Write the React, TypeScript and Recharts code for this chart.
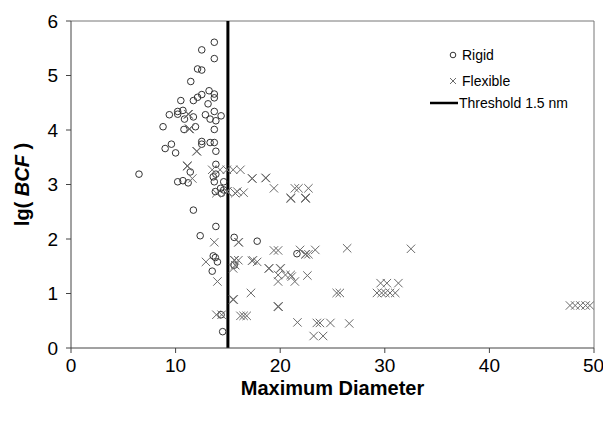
import React from 'react';
import { ScatterChart, Scatter, XAxis, YAxis, ReferenceLine } from 'recharts';

const xTicks = [0, 10, 20, 30, 40, 50];
const yTicks = [0, 1, 2, 3, 4, 5, 6];
const threshold = 15;
const legendLabels = ['Rigid', 'Flexible', 'Threshold 1.5 nm'];

const rigidX = [13.7, 12.5, 13.7, 12.1, 12.5, 11.45, 13.2, 12.5, 12.1, 11.7, 10.5, 13.7, 13.7, 13.1, 13.7, 10.2, 10.7, 9.4, 10.2, 10.85, 11.7, 12.85, 13.3, 13.85, 14.35, 8.8, 10.8, 11.9, 13.7, 9.0, 9.6, 10.0, 12.5, 12.5, 13.3, 13.7, 13.85, 6.5, 11.4, 10.2, 10.7, 11.2, 13.85, 13.85, 13.7, 14.3, 14.6, 13.8, 14.6, 14.4, 11.7, 13.85, 12.35, 15.6, 17.8, 13.6, 13.8, 14.0, 13.5, 14.5, 14.35, 21.6, 15.6, 13.6];
const rigidY = [5.61, 5.47, 5.31, 5.12, 5.10, 4.89, 4.72, 4.65, 4.60, 4.54, 4.54, 4.66, 4.59, 4.48, 4.34, 4.34, 4.36, 4.28, 4.29, 4.20, 4.24, 4.28, 4.20, 4.17, 4.26, 4.06, 4.01, 4.06, 4.01, 3.66, 3.74, 3.58, 3.79, 3.74, 3.77, 3.77, 3.61, 3.19, 3.23, 3.05, 3.07, 3.03, 3.37, 3.19, 3.05, 2.93, 2.90, 2.87, 3.05, 2.84, 2.53, 2.23, 2.06, 2.03, 1.96, 1.69, 1.66, 1.58, 1.41, 0.30, 0.61, 1.73, 1.52, 3.14];

const flexX = [11.2, 11.2, 11.25, 11.3, 11.3, 11.35, 12.0, 12.05, 11.1, 11.1, 11.15, 17.3, 17.35, 18.6, 18.65, 14.9, 14.95, 21.0, 21.0, 21.05, 22.4, 22.4, 22.45, 16.0, 16.05, 18.9, 18.95, 20.0, 20.05, 15.5, 15.5, 15.55, 19.8, 19.8, 19.85, 15.6, 15.65, 22.4, 22.45,
  11.6, 13.5, 14.25, 14.9, 15.5, 16.2, 19.4, 21.4, 21.75, 22.7, 15.9, 16.5, 13.9, 15.7,
  19.4, 19.8, 21.9, 22.7, 23.35, 26.4, 32.5, 16.0, 15.7, 15.5, 17.3, 17.8, 17.4,
  19.8, 20.5, 21.0, 21.1, 22.6, 19.8, 21.4, 17.2, 25.4, 25.7, 13.7, 12.9, 14.0,
  13.9, 14.4, 16.2, 16.5, 16.8, 21.65, 23.5, 23.8, 24.8, 26.6, 23.2, 24.1,
  29.6, 30.2, 31.3, 29.25, 29.7, 30.05, 30.5, 31.0, 47.7, 48.2, 48.7, 49.2, 49.6];
const flexY = [4.29, 4.29, 4.29, 4.02, 4.02, 4.02, 3.61, 3.61, 3.34, 3.34, 3.34, 3.11, 3.11, 3.12, 3.12, 2.87, 2.87, 2.75, 2.75, 2.75, 2.75, 2.75, 2.75, 1.94, 1.94, 1.46, 1.46, 1.46, 1.46, 0.89, 0.89, 0.89, 0.76, 0.76, 0.76, 1.61, 1.61, 1.72, 1.72,
  3.11, 3.27, 3.27, 3.27, 3.27, 3.27, 2.93, 2.93, 2.93, 2.93, 2.87, 2.85, 2.84, 2.84,
  1.79, 1.79, 1.80, 1.72, 1.80, 1.83, 1.82, 1.61, 1.52, 1.46, 1.60, 1.58, 1.61,
  1.34, 1.34, 1.34, 1.31, 1.33, 1.22, 1.22, 1.01, 1.01, 1.01, 1.94, 1.58, 1.22,
  0.61, 0.61, 0.59, 0.59, 0.59, 0.47, 0.46, 0.46, 0.46, 0.45, 0.22, 0.22,
  1.19, 1.19, 1.19, 1.01, 1.01, 1.01, 1.01, 1.01, 0.78, 0.78, 0.78, 0.78, 0.78];

const rigidData = rigidX.map((x, i) => ({ x, y: rigidY[i] }));
const flexData = flexX.map((x, i) => ({ x, y: flexY[i] }));

const FONT = '"Liberation Sans", Arial, sans-serif';
const CROSS = '#6a6a6a';

const CircleShape = (props: any) => {
  const { cx, cy } = props;
  if (cx == null || cy == null) return <g />;
  return <circle cx={cx} cy={cy} r={3.3} fill="none" stroke="#333" strokeWidth={1} />;
};

const CrossShape = (props: any) => {
  const { cx, cy } = props;
  if (cx == null || cy == null) return <g />;
  const s = 4.2;
  return (
    <g stroke={CROSS} strokeWidth={1} fill="none">
      <line x1={cx - s} y1={cy - s} x2={cx + s} y2={cy + s} />
      <line x1={cx - s} y1={cy + s} x2={cx + s} y2={cy - s} />
    </g>
  );
};

const LegendBox = () => (
  <svg width={603} height={427} style={{ position: 'absolute', left: 0, top: 0, pointerEvents: 'none', fontFamily: FONT, fontSize: 14 }}>
    <circle cx={453} cy={55} r={2.8} fill="none" stroke="#333" />
    <text x={462} y={60} fill="#000">{legendLabels[0]}</text>
    <g stroke={CROSS}>
      <line x1={450} y1={78} x2={456} y2={84} />
      <line x1={450} y1={84} x2={456} y2={78} />
    </g>
    <text x={462} y={86} fill="#000">{legendLabels[1]}</text>
    <line x1={430} y1={103} x2={458} y2={103} stroke="#000" strokeWidth={2.5} />
    <text x={459} y={108} fill="#000">{legendLabels[2]}</text>
  </svg>
);

export default function App() {
  return (
    <div style={{ position: 'absolute', left: 0, top: 0, width: 603, height: 427, background: '#fff' }}>
      <ScatterChart width={603} height={427} margin={{ top: 21, right: 9, bottom: 49, left: 21 }}>
        <XAxis
          type="number"
          dataKey="x"
          domain={[0, 50]}
          ticks={xTicks}
          tickSize={5}
          tickLine={{ stroke: '#444' }}
          axisLine={{ stroke: '#444' }}
          tick={{ fill: '#000', fontSize: 19, fontFamily: FONT }}
          tickMargin={6}
          height={30}
          allowDataOverflow
          label={{ value: 'Maximum Diameter', position: 'insideBottom', offset: -17, fill: '#000', fontSize: 20, fontWeight: 'bold', fontFamily: FONT }}
        />
        <YAxis
          type="number"
          dataKey="y"
          domain={[0, 6]}
          ticks={yTicks}
          tickSize={5}
          tickLine={{ stroke: '#444' }}
          axisLine={{ stroke: '#444' }}
          tick={{ fill: '#000', fontSize: 19, fontFamily: FONT }}
          tickMargin={8}
          width={50}
          allowDataOverflow
          label={(props: any) => {
            const vb = props.viewBox;
            const cy = vb.y + vb.height / 2;
            return (
              <text x={29} y={cy} transform={`rotate(-90, 29, ${cy})`} textAnchor="middle" fontSize={20} fontWeight="bold" fontFamily={FONT} fill="#000">
                lg( <tspan fontStyle="italic">BCF</tspan> )
              </text>
            );
          }}
        />
        <ReferenceLine y={6} stroke="#777" strokeWidth={1} />
        <ReferenceLine x={50} stroke="#777" strokeWidth={1} />
        <Scatter name="Rigid" data={rigidData} shape={CircleShape} isAnimationActive={false} />
        <Scatter name="Flexible" data={flexData} shape={CrossShape} isAnimationActive={false} />
        <ReferenceLine x={threshold} stroke="#000" strokeWidth={3} />
      </ScatterChart>
      <LegendBox />
    </div>
  );
}
